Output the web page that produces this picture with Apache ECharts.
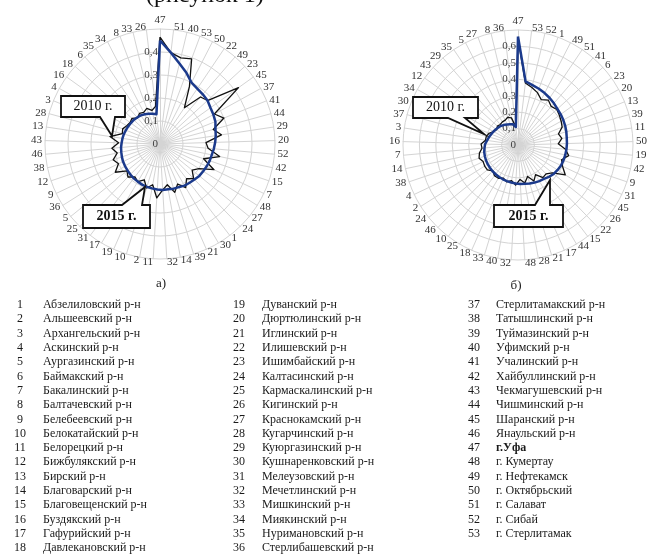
<!DOCTYPE html>
<html><head><meta charset="utf-8">
<script src="https://cdn.jsdelivr.net/npm/echarts@6/dist/echarts.min.js"></script>
<style>html,body{margin:0;padding:0;background:#fff}#c{width:655px;height:558px}</style>
</head><body><div id="c"></div>
<script>
// Spoke order (clockwise from top) and values
const orderA = [47,51,40,53,50,22,49,23,45,37,41,44,29,20,52,42,15,7,48,27,24,1,30,21,39,14,32,11,2,10,19,17,31,25,5,36,9,12,38,46,43,13,28,3,4,16,18,6,35,34,8,33,26];
const a2010 = [0.465,0.40,0.385,0.395,0.28,0.19,0.27,0.28,0.42,0.27,0.30,0.24,0.27,0.20,0.21,0.265,0.20,0.26,0.20,0.18,0.21,0.19,0.22,0.19,0.22,0.18,0.20,0.235,0.18,0.20,0.17,0.19,0.18,0.20,0.185,0.23,0.20,0.215,0.19,0.21,0.18,0.22,0.17,0.175,0.165,0.16,0.165,0.15,0.16,0.155,0.165,0.15,0.165];
const a2015 = [0.45,0.40,0.36,0.33,0.30,0.29,0.285,0.28,0.27,0.265,0.26,0.25,0.245,0.24,0.235,0.23,0.228,0.225,0.222,0.22,0.215,0.212,0.21,0.205,0.203,0.20,0.20,0.198,0.196,0.195,0.193,0.19,0.188,0.185,0.182,0.18,0.178,0.175,0.172,0.17,0.167,0.165,0.163,0.16,0.158,0.156,0.155,0.152,0.15,0.145,0.14,0.135,0.13];
const orderB = [47,53,52,1,49,51,41,6,23,20,13,39,11,50,19,42,9,31,45,26,22,15,44,17,21,28,48,32,40,33,18,25,10,46,24,2,4,38,14,7,16,3,37,30,34,12,43,29,35,5,27,8,36];
const b2010 = [0.65,0.38,0.36,0.34,0.31,0.33,0.31,0.32,0.31,0.30,0.29,0.255,0.27,0.245,0.29,0.315,0.28,0.30,0.34,0.27,0.245,0.25,0.21,0.24,0.20,0.235,0.21,0.245,0.22,0.235,0.22,0.235,0.236,0.22,0.24,0.24,0.235,0.25,0.24,0.22,0.225,0.20,0.20,0.19,0.17,0.16,0.17,0.165,0.17,0.17,0.18,0.17,0.11];
const b2015 = [0.66,0.39,0.375,0.365,0.355,0.345,0.335,0.325,0.32,0.315,0.31,0.305,0.30,0.298,0.296,0.294,0.292,0.29,0.285,0.28,0.27,0.26,0.255,0.25,0.245,0.24,0.238,0.235,0.232,0.23,0.228,0.226,0.224,0.222,0.22,0.218,0.216,0.213,0.21,0.205,0.20,0.19,0.183,0.176,0.17,0.165,0.16,0.155,0.148,0.14,0.135,0.13,0.11];
const maxA = 0.5, maxB = 0.7;
const seriesNames = ['2010 г.', '2015 г.'];
const regionNames = ['Абзелиловский р-н','Альшеевский р-н','Архангельский р-н','Аскинский р-н','Аургазинский р-н','Баймакский р-н','Бакалинский р-н','Балтачевский р-н','Белебеевский р-н','Белокатайский р-н','Белорецкий р-н','Бижбулякский р-н','Бирский р-н','Благоварский р-н','Благовещенский р-н','Буздякский р-н','Гафурийский р-н','Давлекановский р-н','Дуванский р-н','Дюртюлинский р-н','Иглинский р-н','Илишевский р-н','Ишимбайский р-н','Калтасинский р-н','Кармаскалинский р-н','Кигинский р-н','Краснокамский р-н','Кугарчинский р-н','Куюргазинский р-н','Кушнаренковский р-н','Мелеузовский р-н','Мечетлинский р-н','Мишкинский р-н','Миякинский р-н','Нуримановский р-н','Стерлибашевский р-н','Стерлитамакский р-н','Татышлинский р-н','Туймазинский р-н','Уфимский р-н','Учалинский р-н','Хайбуллинский р-н','Чекмагушевский р-н','Чишминский р-н','Шаранский р-н','Янаульский р-н','г.Уфа','г. Кумертау','г. Нефтекамск','г. Октябрьский','г. Салават','г. Сибай','г. Стерлитамак'];
const panelLabels = ['а)', 'б)'];
const captionText = '(рисунок 1)';

const SERIF = 'Liberation Serif';
const ccw = arr => [arr[0]].concat(arr.slice(1).reverse());
function fmt(max){ return v => (v >= max - 1e-9) ? '' : (v === 0 ? '0' : v.toFixed(1).replace('.', ',')); }
function radar(center, order, max, split){
  const ind = ccw(order).map((n, i) => {
    const o = {name: String(n), min: 0, max: max};
    if (i === 0) o.axisLabel = {show: true, formatter: fmt(max), color: '#404040', fontFamily: SERIF, fontSize: 11, margin: 2};
    return o;
  });
  return {
    center: center, radius: 115, shape: 'circle', splitNumber: split, startAngle: 90,
    indicator: ind, nameGap: 3,
    axisName: {color: '#333', fontFamily: SERIF, fontSize: 11},
    splitLine: {lineStyle: {color: '#d4d4d4', width: 1}},
    splitArea: {show: false},
    axisLine: {lineStyle: {color: '#d4d4d4', width: 1}},
    axisTick: {show: false},
    axisLabel: {show: false}
  };
}
function radarSeries(idx, v10, v15){
  return {type: 'radar', radarIndex: idx, symbol: 'none', silent: true,
    data: [
      {name: seriesNames[0], value: ccw(v10), lineStyle: {color: '#111', width: 1.3}},
      {name: seriesNames[1], value: ccw(v15), lineStyle: {color: '#1b3a8c', width: 2.5}}
    ]};
}
function callout(x0, y0, x1, y1, b1, b2, ax, ay, top, text, bold){
  const pts = top
    ? [[x0,y0],[b1,y0],[ax,ay],[b2,y0],[x1,y0],[x1,y1],[x0,y1]]
    : [[x0,y0],[x1,y0],[x1,y1],[b2,y1],[ax,ay],[b1,y1],[x0,y1]];
  return [
    {type: 'polygon', shape: {points: pts}, style: {fill: '#fff', stroke: '#111', lineWidth: 1.8}, z: 10},
    {type: 'text', x: (x0+x1)/2, y: (y0+y1)/2, z: 11, style: {text: text, fill: '#111', font: (bold?'bold ':'') + '14px "' + SERIF + '"', align: 'center', verticalAlign: 'middle'}}
  ];
}
const graphics = [];
graphics.push({type: 'text', x: 146, y: 8, style: {text: captionText, fill: '#111', font: '24px "' + SERIF + '"', align: 'left', verticalAlign: 'bottom'}});
graphics.push(...callout(61, 96, 125, 117, 100, 115, 112, 136, false, seriesNames[0], false));
graphics.push(...callout(83, 205, 150, 228, 122, 142, 145, 187, true, seriesNames[1], true));
graphics.push(...callout(413, 97, 478, 118, 448, 465, 484, 134, false, seriesNames[0], false));
graphics.push(...callout(494, 205, 563, 227, 535, 550, 550, 180, true, seriesNames[1], true));
graphics.push({type: 'text', x: 161, y: 284, style: {text: panelLabels[0], fill: '#222', font: '13px "' + SERIF + '"', align: 'center', verticalAlign: 'middle'}});
graphics.push({type: 'text', x: 516, y: 286, style: {text: panelLabels[1], fill: '#222', font: '13px "' + SERIF + '"', align: 'center', verticalAlign: 'middle'}});
const colNumX = [20, 239, 474], colNameX = [43, 262, 496], colStart = [0, 18, 36];
regionNames.forEach((nm, i) => {
  const c = i < 18 ? 0 : (i < 36 ? 1 : 2);
  const r = i - colStart[c];
  const y = 305 + r * 14.3;
  const bold = (i === 46);
  graphics.push({type: 'text', x: colNumX[c], y: y, style: {text: String(i+1), fill: '#1a1a1a', font: '12px "' + SERIF + '"', align: 'center', verticalAlign: 'middle'}});
  graphics.push({type: 'text', x: colNameX[c], y: y, style: {text: nm, fill: '#1a1a1a', font: (bold?'bold ':'') + '12px "' + SERIF + '"', align: 'left', verticalAlign: 'middle'}});
});

const chart = echarts.init(document.getElementById('c'), null, {renderer: 'canvas'});
chart.setOption({
  animation: false,
  backgroundColor: '#fff',
  radar: [radar([160, 144], orderA, maxA, 5), radar([518, 145], orderB, maxB, 7)],
  series: [radarSeries(0, a2010, a2015), radarSeries(1, b2010, b2015)],
  graphic: graphics
});
</script></body></html>
